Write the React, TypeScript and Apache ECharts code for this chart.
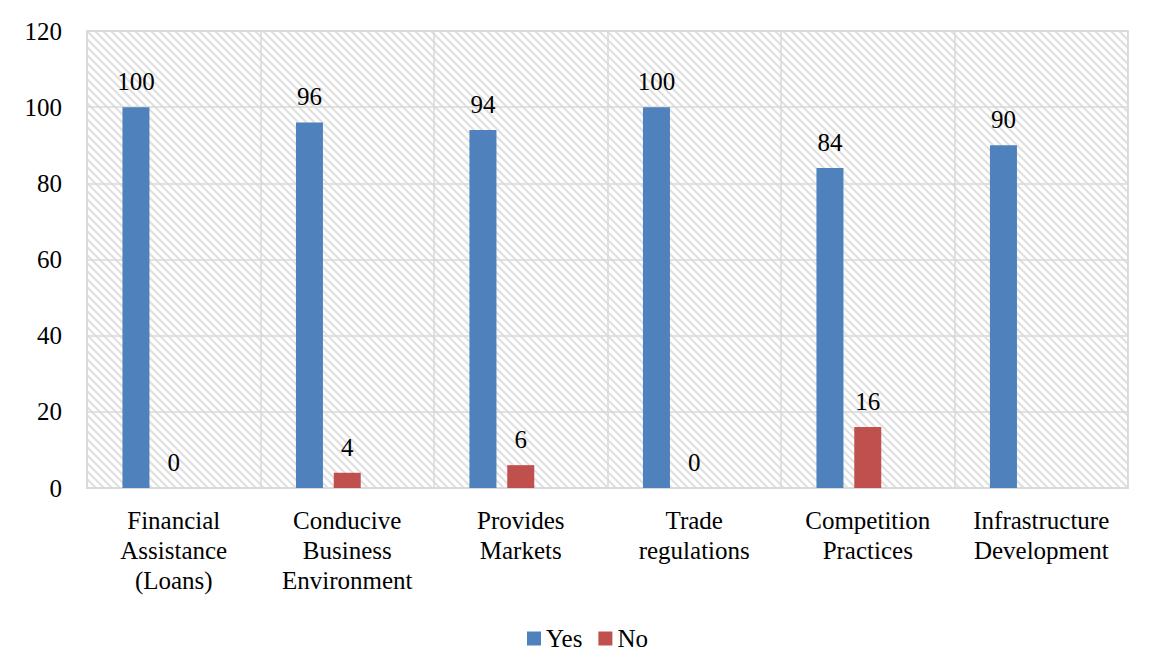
import React, { useEffect, useRef } from "react";
import * as echarts from "echarts";

const categories = [
  "Financial\nAssistance\n(Loans)",
  "Conducive\nBusiness\nEnvironment",
  "Provides\nMarkets",
  "Trade\nregulations",
  "Competition\nPractices",
  "Infrastructure\nDevelopment",
];
const yesValues = [100, 96, 94, 100, 84, 90];
const noValues: (number | null)[] = [0, 4, 6, 0, 16, null];
const blankValues: (number | null)[] = [null, null, null, null, null, null];
const yTicks = { min: 0, max: 120, interval: 20 };

const FONT = "Liberation Serif";
const FS = 25;

function makeHatch(): HTMLCanvasElement {
  const s = 8;
  const c = document.createElement("canvas");
  c.width = s;
  c.height = s;
  const ctx = c.getContext("2d")!;
  ctx.fillStyle = "#ffffff";
  ctx.fillRect(0, 0, s, s);
  ctx.strokeStyle = "#e0e0e0";
  ctx.lineWidth = 2.2;
  ctx.beginPath();
  ctx.moveTo(-2, -2);
  ctx.lineTo(s + 2, s + 2);
  ctx.moveTo(-2, s - 2);
  ctx.lineTo(2, s + 2);
  ctx.moveTo(s - 2, -2);
  ctx.lineTo(s + 2, 2);
  ctx.stroke();
  return c;
}

export default function App() {
  const ref = useRef<HTMLDivElement>(null);
  useEffect(() => {
    if (!ref.current) return;
    const chart = echarts.init(ref.current, null, { renderer: "svg" });
    const hatch = makeHatch();
    const labelStyle = {
      show: true,
      position: "top",
      distance: 13,
      fontFamily: FONT,
      fontSize: FS,
      color: "#000",
    };
    chart.setOption({
      animation: false,
      textStyle: { fontFamily: FONT },
      graphic: [
        {
          type: "rect",
          shape: { x: 5, y: 1, width: 1145, height: 700 },
          style: { fill: "none", stroke: "#d9d9d9", lineWidth: 1.5 },
          z: -10,
        },
      ],
      grid: {
        left: 87,
        right: 23,
        top: 31,
        bottom: 182,
        show: true,
        borderColor: "#d9d9d9",
        borderWidth: 1.5,
        backgroundColor: { image: hatch, repeat: "repeat" },
      },
      legend: {
        data: ["Yes", "No"],
        left: 522,
        top: 621,
        icon: "rect",
        itemWidth: 14,
        itemHeight: 14,
        itemGap: 16,
        textStyle: { fontFamily: FONT, fontSize: FS, color: "#000" },
      },
      xAxis: {
        type: "category",
        data: categories,
        axisTick: { show: false },
        axisLine: { lineStyle: { color: "#d9d9d9", width: 2 } },
        splitLine: { show: true, lineStyle: { color: "#d9d9d9", width: 1.5 } },
        axisLabel: {
          interval: 0,
          margin: 17,
          fontFamily: FONT,
          fontSize: FS,
          lineHeight: 30,
          color: "#000",
        },
      },
      yAxis: {
        type: "value",
        min: yTicks.min,
        max: yTicks.max,
        interval: yTicks.interval,
        axisLine: { show: false },
        axisTick: { show: false },
        splitLine: { lineStyle: { color: "#d9d9d9", width: 1.5 } },
        axisLabel: {
          margin: 25,
          fontFamily: FONT,
          fontSize: FS,
          color: "#000",
        },
      },
      series: [
        {
          name: "Yes",
          type: "bar",
          data: yesValues,
          barWidth: 27,
          barGap: "40%",
          itemStyle: { color: "#4f81bd" },
          label: labelStyle,
        },
        {
          name: "No",
          type: "bar",
          data: noValues,
          barWidth: 27,
          barGap: "40%",
          itemStyle: { color: "#c0504d" },
          label: labelStyle,
        },
        {
          name: "blank",
          type: "bar",
          data: blankValues,
          barWidth: 27,
          barGap: "40%",
          itemStyle: { color: "transparent" },
        },
      ],
    });
    ref.current.querySelectorAll("text").forEach((t) => {
      (t as SVGTextElement).style.fontFamily = '"Liberation Serif"';
    });
    return () => chart.dispose();
  }, []);
  return (
    <div style={{ margin: -8 }}>
      <style>{`#chartroot text { font-family: "Liberation Serif", serif !important; }`}</style>
      <div id="chartroot" ref={ref} style={{ width: 1151, height: 670 }} />
    </div>
  );
}
